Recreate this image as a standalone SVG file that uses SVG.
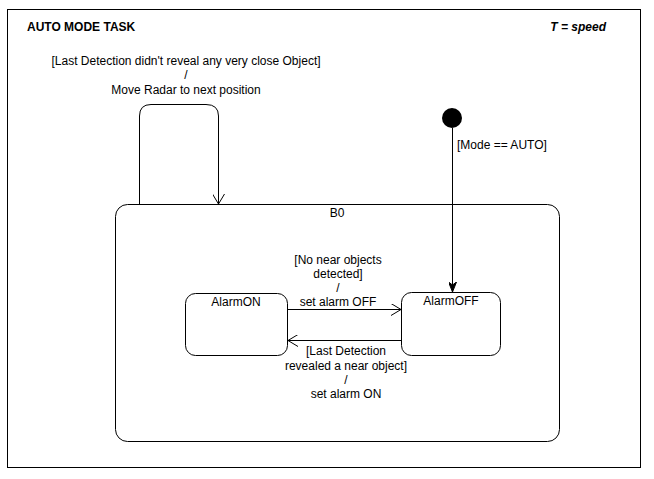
<svg xmlns="http://www.w3.org/2000/svg" width="654" height="479" viewBox="0 0 654 479">
<style>
  text { font-family: "Liberation Sans", Arial, sans-serif; font-size: 12px; fill: #000; }
  .c { text-anchor: middle; }
  .st { fill: #fff; stroke: #000; stroke-width: 1; }
  .ln { fill: none; stroke: #000; stroke-width: 1; }
</style>
<defs>
  <marker id="open" viewBox="0 0 10 12" refX="10" refY="6" markerWidth="10" markerHeight="12" markerUnits="userSpaceOnUse" orient="auto">
    <path d="M0,0 L10,6 L0,12" fill="none" stroke="#000" stroke-width="1"/>
  </marker>
  <marker id="filled" viewBox="0 0 10 8" refX="10" refY="4" markerWidth="10" markerHeight="8" markerUnits="userSpaceOnUse" orient="auto">
    <path d="M0,0 L10,4 L0,8 L3,4 Z" fill="#000" stroke="#000" stroke-width="1"/>
  </marker>
</defs>
<rect x="0" y="0" width="654" height="479" fill="#fff"/>
<g id="frame">
  <rect x="7.5" y="9.5" width="633" height="458" fill="#fff" stroke="#000" stroke-width="1"/>
  <text x="27" y="31" style="font-weight:bold">AUTO MODE TASK</text>
  <text x="606" y="31" style="font-weight:bold;font-style:italic;text-anchor:end">T = speed</text>
</g>
<g id="B0">
  <rect class="st" x="115.5" y="204.5" width="444" height="237" rx="12" ry="12"/>
  <text class="c" x="337" y="217">B0</text>
</g>
<g id="AlarmON">
  <rect class="st" x="185.5" y="293.5" width="102" height="62" rx="10" ry="10"/>
  <text class="c" x="236" y="306">AlarmON</text>
</g>
<g id="AlarmOFF">
  <rect class="st" x="401.5" y="292.5" width="99" height="63" rx="10" ry="10"/>
  <text class="c" x="451" y="305">AlarmOFF</text>
</g>
<g id="initial">
  <circle cx="452" cy="118" r="10" fill="#000"/>
</g>
<g id="connectors">
  <path class="ln" d="M139.5,204 L139.5,116 Q139.5,104.5 151,104.5 L206,104.5 Q218.5,104.5 218.5,116 L218.5,204" marker-end="url(#open)"/>
  <text class="c" x="186" y="65">[Last Detection didn't reveal any very close Object]</text>
  <text class="c" x="186" y="79">/</text>
  <text class="c" x="186" y="94">Move Radar to next position</text>

  <path class="ln" d="M452.5,128 L452.5,292" marker-end="url(#filled)"/>
  <text x="457" y="149">[Mode == AUTO]</text>

  <path class="ln" d="M287.5,309.5 L401,309.5" marker-end="url(#open)"/>
  <text class="c" x="338" y="264">[No near objects</text>
  <text class="c" x="338" y="278">detected]</text>
  <text class="c" x="338" y="292">/</text>
  <text class="c" x="338" y="306">set alarm OFF</text>

  <path class="ln" d="M401,340.5 L288,340.5" marker-end="url(#open)"/>
  <text class="c" x="346" y="355">[Last Detection</text>
  <text class="c" x="346" y="370">revealed a near object]</text>
  <text class="c" x="346" y="384">/</text>
  <text class="c" x="346" y="398">set alarm ON</text>
</g>
</svg>
